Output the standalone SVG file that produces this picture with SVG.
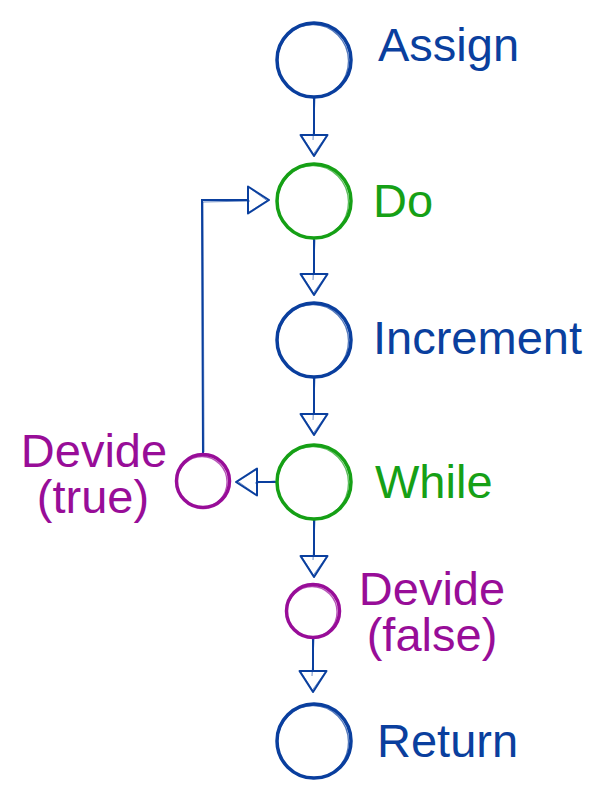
<svg xmlns="http://www.w3.org/2000/svg" width="600" height="800" viewBox="0 0 600 800">
  <defs>
    <style>
      .lbl { font-family: "Liberation Sans", Arial, sans-serif; font-size: 47px; }
      .blue { fill: #0a3f9e; }
      .green { fill: #16a016; }
      .purple { fill: #980d98; }
      .cb { fill: none; stroke: #0a3f9e; }
      .cg { fill: none; stroke: #16a016; }
      .cp { fill: none; stroke: #980d98; }
      .main { stroke-width: 3.5; }
      .sk { stroke-width: 1.3; opacity: 0.7; }
      .edge { fill: none; stroke: #0a3f9e; stroke-width: 2; marker-end: url(#tri); }
      .edge2 { fill: none; stroke: #0a3f9e; stroke-width: 1; opacity: 0.6; }
    </style>
    <marker id="tri" markerUnits="userSpaceOnUse" markerWidth="26" markerHeight="32" refX="23" refY="15" orient="auto" viewBox="0 0 26 32">
      <path d="M2,1.5 L23,15 L2,28.5 Z" fill="#fff" stroke="#0a3f9e" stroke-width="2" stroke-linejoin="round"/>
      <path d="M3.5,3 L21,15.5 L3,27" fill="none" stroke="#0a3f9e" stroke-width="1" opacity="0.6"/>
    </marker>
  </defs>

  <g id="connectors">
    <path class="edge" d="M314,97 L314,156"/>
    <path class="edge2" d="M315,98 L313,140"/>
    <path class="edge" d="M314,239 L314,295"/>
    <path class="edge2" d="M315,240 L313,280"/>
    <path class="edge" d="M276,482 L236,482"/>
    <path class="edge2" d="M275,481 L255,483"/>
    <path class="edge" d="M314,377 L314,435"/>
    <path class="edge2" d="M315,378 L313,420"/>
    <path class="edge" d="M314,519 L314,577"/>
    <path class="edge2" d="M315,520 L313,560"/>
    <path class="edge" d="M313,638 L313,692"/>
    <path class="edge2" d="M314,639 L312,676"/>
    <path class="edge" d="M203,454 L202,200 L269,200"/>
    <path class="edge2" d="M204,452 L203,202 L250,201"/>
  </g>

  <g id="assign">
    <circle class="cb main" cx="314" cy="60" r="37"/>
    <ellipse class="cb sk" cx="313" cy="61" rx="35.5" ry="36.5"/>
    <text class="lbl blue" x="378" y="61">Assign</text>
  </g>

  <g id="do">
    <circle class="cg main" cx="314" cy="201" r="37"/>
    <ellipse class="cg sk" cx="313" cy="202" rx="35.5" ry="36.5"/>
    <text class="lbl green" x="373" y="217">Do</text>
  </g>

  <g id="increment">
    <circle class="cb main" cx="314" cy="340" r="37"/>
    <ellipse class="cb sk" cx="313" cy="341" rx="35.5" ry="36.5"/>
    <text class="lbl blue" x="373" y="354">Increment</text>
  </g>

  <g id="while">
    <circle class="cg main" cx="314" cy="482" r="37"/>
    <ellipse class="cg sk" cx="313" cy="483" rx="35.5" ry="36.5"/>
    <text class="lbl green" x="375" y="498">While</text>
  </g>

  <g id="devide-true">
    <circle class="cp main" cx="203" cy="481" r="26.5"/>
    <ellipse class="cp sk" cx="202" cy="482" rx="25" ry="25.5"/>
    <text class="lbl purple" text-anchor="middle" x="94" y="467">Devide</text>
    <text class="lbl purple" text-anchor="middle" x="93" y="513">(true)</text>
  </g>

  <g id="devide-false">
    <circle class="cp main" cx="313" cy="611" r="26.5"/>
    <ellipse class="cp sk" cx="312" cy="612" rx="25" ry="25.5"/>
    <text class="lbl purple" text-anchor="middle" x="432" y="605">Devide</text>
    <text class="lbl purple" text-anchor="middle" x="432" y="651">(false)</text>
  </g>

  <g id="return">
    <circle class="cb main" cx="314" cy="741" r="37"/>
    <ellipse class="cb sk" cx="313" cy="742" rx="35.5" ry="36.5"/>
    <text class="lbl blue" x="377" y="757">Return</text>
  </g>
</svg>
